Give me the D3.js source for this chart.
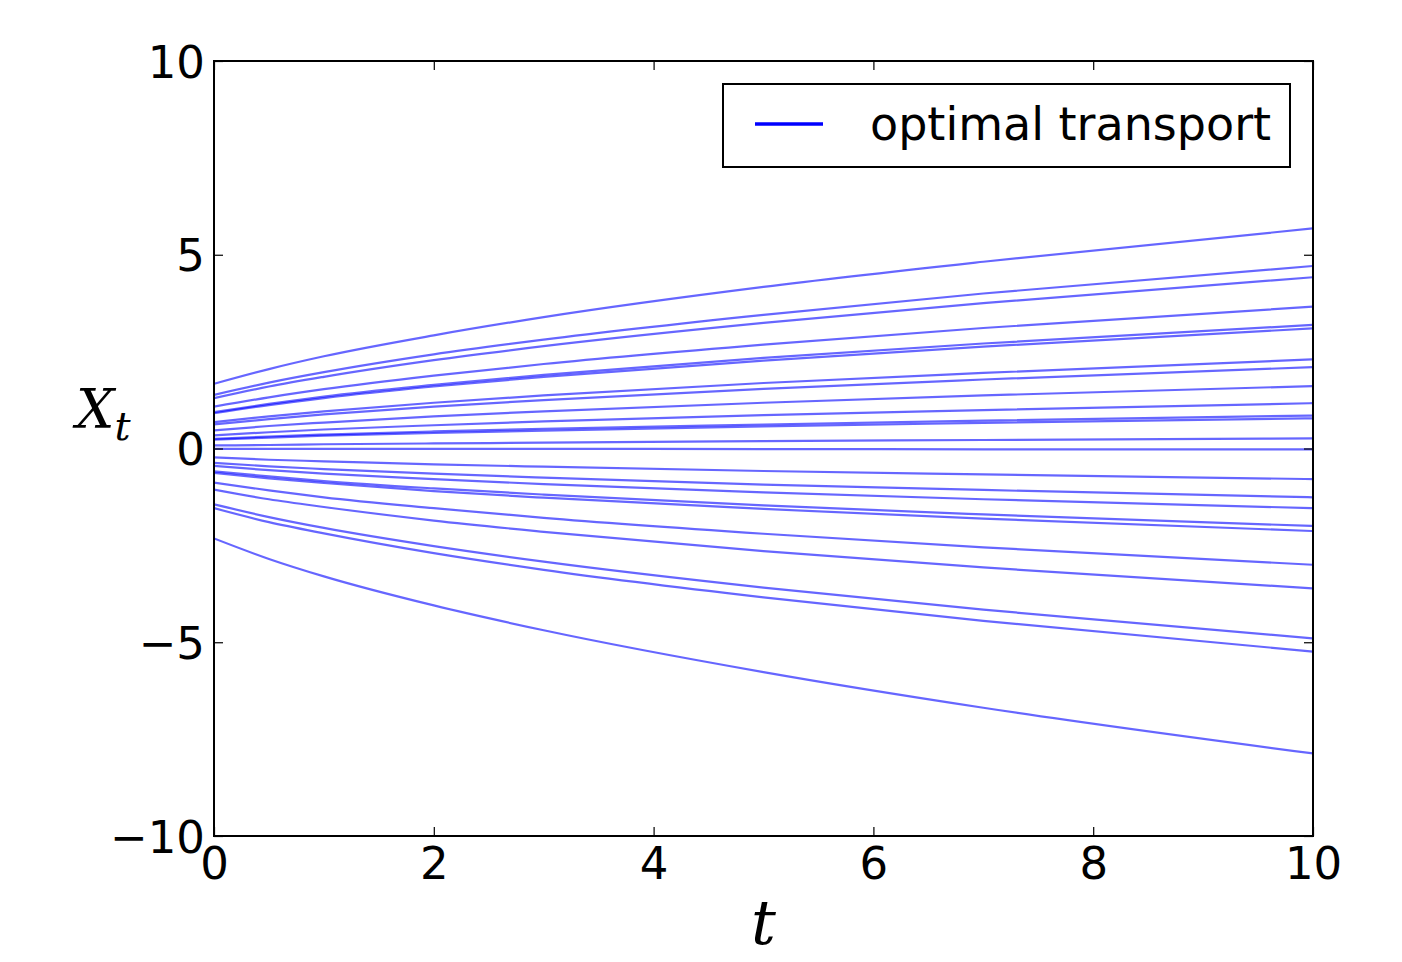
<!DOCTYPE html>
<html>
<head>
<meta charset="utf-8">
<script src="https://cdn.jsdelivr.net/npm/d3@7"></script>
<style>
  body { margin: 0; background: #fff; }
  svg text { font-family: "DejaVu Sans", sans-serif; }
</style>
</head>
<body>
<div id="chart"></div>
<script>
// sample times for each trajectory
const times = [0, 0.5, 1, 2, 3, 5, 7, 10];

// trajectories X_t (one row per line)
const paths = [
  [1.67, 2.05, 2.38, 2.92, 3.39, 4.17, 4.82, 5.68],
  [1.385, 1.70, 1.97, 2.43, 2.81, 3.45, 4.00, 4.71],
  [1.30, 1.60, 1.85, 2.28, 2.64, 3.24, 3.75, 4.42],
  [1.08, 1.32, 1.53, 1.88, 2.18, 2.68, 3.11, 3.66],
  [0.94, 1.15, 1.34, 1.64, 1.90, 2.34, 2.71, 3.19],
  [0.91, 1.12, 1.30, 1.60, 1.85, 2.27, 2.63, 3.10],
  [0.68, 0.83, 0.96, 1.18, 1.37, 1.69, 1.95, 2.30],
  [0.62, 0.76, 0.88, 1.08, 1.25, 1.54, 1.78, 2.10],
  [0.47, 0.58, 0.67, 0.83, 0.96, 1.18, 1.37, 1.61],
  [0.34, 0.42, 0.49, 0.60, 0.70, 0.86, 0.99, 1.17],
  [0.25, 0.31, 0.36, 0.44, 0.51, 0.62, 0.72, 0.85],
  [0.23, 0.28, 0.33, 0.40, 0.46, 0.57, 0.66, 0.78],
  [0.08, 0.09, 0.11, 0.13, 0.15, 0.19, 0.22, 0.26],
  [-0.01, -0.01, -0.01, -0.01, -0.01, -0.015, -0.02, -0.02],
  [-0.23, -0.29, -0.33, -0.41, -0.47, -0.58, -0.67, -0.79],
  [-0.37, -0.46, -0.53, -0.65, -0.75, -0.93, -1.07, -1.26],
  [-0.45, -0.56, -0.65, -0.79, -0.92, -1.13, -1.31, -1.54],
  [-0.59, -0.72, -0.84, -1.03, -1.19, -1.47, -1.70, -2.00],
  [-0.63, -0.77, -0.89, -1.10, -1.27, -1.56, -1.81, -2.13],
  [-0.88, -1.08, -1.26, -1.54, -1.79, -2.20, -2.55, -3.00],
  [-1.06, -1.31, -1.51, -1.86, -2.15, -2.65, -3.07, -3.61],
  [-1.44, -1.77, -2.05, -2.52, -2.92, -3.59, -4.16, -4.90],
  [-1.54, -1.90, -2.19, -2.70, -3.13, -3.84, -4.45, -5.24],
  [-2.32, -2.85, -3.30, -4.05, -4.69, -5.77, -6.69, -7.87]
];

const xTicks = [0, 2, 4, 6, 8, 10];
const yTicks = [-10, -5, 0, 5, 10];
const legendLabel = "optimal transport";

const width = 1402, height = 962;
const margin = {top: 61, right: 89, bottom: 126, left: 214};
const innerW = width - margin.left - margin.right;
const innerH = height - margin.top - margin.bottom;

const svg = d3.select("#chart")
  .append("svg")
  .attr("width", width)
  .attr("height", height);

const g = svg.append("g")
  .attr("transform", `translate(${margin.left},${margin.top})`);

const x = d3.scaleLinear().domain([0, 10]).range([0, innerW]);
const y = d3.scaleLinear().domain([-10, 10]).range([innerH, 0]);

// clip to plot area
g.append("clipPath").attr("id", "clip")
  .append("rect").attr("width", innerW).attr("height", innerH);

const line = d3.line()
  .x((d, i) => x(times[i]))
  .y(d => y(d))
  .curve(d3.curveMonotoneX);

g.append("g")
  .attr("clip-path", "url(#clip)")
  .selectAll("path")
  .data(paths)
  .enter()
  .append("path")
  .attr("d", line)
  .attr("fill", "none")
  .attr("stroke", "#0000ff")
  .attr("stroke-opacity", 0.6)
  .attr("stroke-width", 2.2);

// axes with inward ticks (all four sides)
const fontSize = 45;
const bottomAxis = g.append("g")
  .attr("transform", `translate(0,${innerH})`)
  .call(d3.axisBottom(x).tickValues(xTicks).tickSizeInner(-9).tickSizeOuter(0).tickPadding(11));
const topAxis = g.append("g")
  .call(d3.axisTop(x).tickValues(xTicks).tickSizeInner(-9).tickSizeOuter(0).tickFormat(""));
const leftAxis = g.append("g")
  .call(d3.axisLeft(y).tickValues(yTicks).tickSizeInner(-9).tickSizeOuter(0).tickPadding(9)
    .tickFormat(d => d < 0 ? "\u2212" + Math.abs(d) : d));
const rightAxis = g.append("g")
  .attr("transform", `translate(${innerW},0)`)
  .call(d3.axisRight(y).tickValues(yTicks).tickSizeInner(-9).tickSizeOuter(0).tickFormat(""));

[bottomAxis, topAxis, leftAxis, rightAxis].forEach(a => {
  a.select(".domain").remove();
  a.selectAll(".tick line").attr("stroke", "#000").attr("stroke-width", 1.2);
  a.selectAll("text")
    .attr("fill", "#000")
    .style("font-size", fontSize + "px")
    .style("font-family", "DejaVu Sans, sans-serif");
});
bottomAxis.selectAll("text").attr("dy", "0.72em");
leftAxis.selectAll("text").attr("dy", "0.36em");

// frame
g.append("rect")
  .attr("width", innerW)
  .attr("height", innerH)
  .attr("fill", "none")
  .attr("stroke", "#000")
  .attr("stroke-width", 2);

// axis labels (math italic)
svg.append("text")
  .attr("x", margin.left + innerW / 2)
  .attr("y", 944)
  .attr("text-anchor", "middle")
  .style("font-family", "DejaVu Serif, serif")
  .style("font-style", "italic")
  .style("font-size", "62px")
  .text("t");

const ylab = svg.append("text")
  .attr("x", 76)
  .attr("y", 428)
  .style("font-family", "DejaVu Serif, serif")
  .style("font-style", "italic")
  .style("font-size", "54px");
ylab.append("tspan").text("X");
ylab.append("tspan").attr("dy", 12).style("font-size", "40px").text("t");

// legend
const legend = g.append("g")
  .attr("transform", `translate(${723 - margin.left},${84 - margin.top})`);
legend.append("rect")
  .attr("width", 567)
  .attr("height", 83)
  .attr("fill", "#fff")
  .attr("stroke", "#000")
  .attr("stroke-width", 2);
legend.append("line")
  .attr("x1", 32).attr("x2", 100)
  .attr("y1", 40).attr("y2", 40)
  .attr("stroke", "#0000ff")
  .attr("stroke-width", 3.5);
legend.append("text")
  .attr("x", 147)
  .attr("y", 56)
  .style("font-size", "46px")
  .attr("fill", "#000")
  .text(legendLabel);
</script>
</body>
</html>
